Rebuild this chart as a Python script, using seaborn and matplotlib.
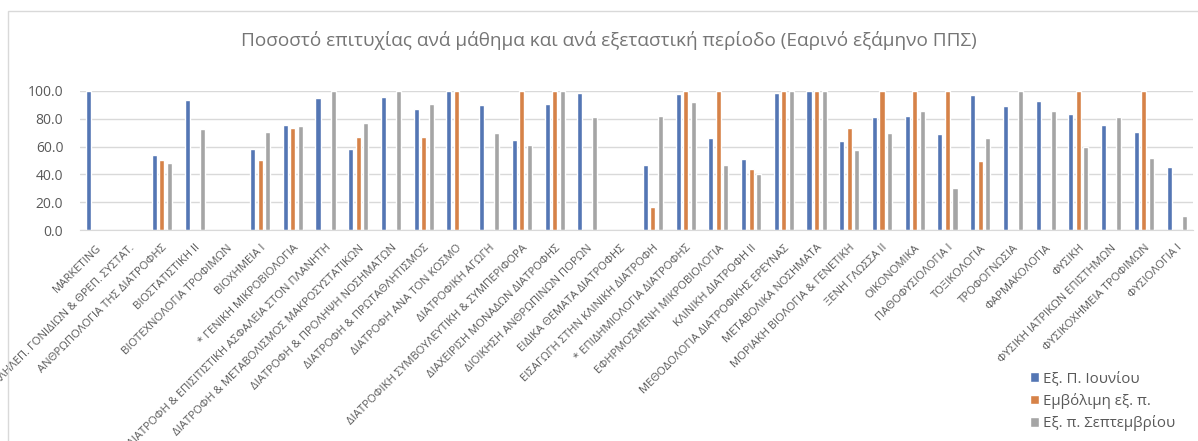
import matplotlib
matplotlib.use("Agg")
import matplotlib.pyplot as plt
import numpy as np
import pandas as pd
import seaborn as sns
from matplotlib.patches import Rectangle

# Courses (x categories), in the order shown on the chart
courses = [
    "MARKETING",
    "ΑΛΛΗΛΕΠ. ΓΟΝΙΔΙΩΝ & ΘΡΕΠ. ΣΥΣΤΑΤ.",
    "ΑΝΘΡΩΠΟΛΟΓΙΑ ΤΗΣ ΔΙΑΤΡΟΦΗΣ",
    "ΒΙΟΣΤΑΤΙΣΤΙΚΗ ΙΙ",
    "ΒΙΟΤΕΧΝΟΛΟΓΙΑ ΤΡΟΦΙΜΩΝ",
    "ΒΙΟΧΗΜΕΙΑ Ι",
    "* ΓΕΝΙΚΗ ΜΙΚΡΟΒΙΟΛΟΓΙΑ",
    "ΔΙΑΤΡΟΦΗ & ΕΠΙΣΙΤΙΣΤΙΚΗ ΑΣΦΑΛΕΙΑ ΣΤΟΝ ΠΛΑΝΗΤΗ",
    "ΔΙΑΤΡΟΦΗ & ΜΕΤΑΒΟΛΙΣΜΟΣ ΜΑΚΡΟΣΥΣΤΑΤΙΚΩΝ",
    "ΔΙΑΤΡΟΦΗ & ΠΡΟΛΗΨΗ ΝΟΣΗΜΑΤΩΝ",
    "ΔΙΑΤΡΟΦΗ & ΠΡΩΤΑΘΛΗΤΙΣΜΟΣ",
    "ΔΙΑΤΡΟΦΗ ΑΝΑ ΤΟΝ ΚΟΣΜΟ",
    "ΔΙΑΤΡΟΦΙΚΗ ΑΓΩΓΗ",
    "ΔΙΑΤΡΟΦΙΚΗ ΣΥΜΒΟΥΛΕΥΤΙΚΗ & ΣΥΜΠΕΡΙΦΟΡΑ",
    "ΔΙΑΧΕΙΡΙΣΗ ΜΟΝΑΔΩΝ ΔΙΑΤΡΟΦΗΣ",
    "ΔΙΟΙΚΗΣΗ ΑΝΘΡΩΠΙΝΩΝ ΠΟΡΩΝ",
    "ΕΙΔΙΚΑ ΘΕΜΑΤΑ ΔΙΑΤΡΟΦΗΣ",
    "ΕΙΣΑΓΩΓΗ ΣΤΗΝ ΚΛΙΝΙΚΗ ΔΙΑΤΡΟΦΗ",
    "* ΕΠΙΔΗΜΙΟΛΟΓΙΑ ΔΙΑΤΡΟΦΗΣ",
    "ΕΦΗΡΜΟΣΜΕΝΗ ΜΙΚΡΟΒΙΟΛΟΓΙΑ",
    "ΚΛΙΝΙΚΗ ΔΙΑΤΡΟΦΗ ΙΙ",
    "ΜΕΘΟΔΟΛΟΓΙΑ ΔΙΑΤΡΟΦΙΚΗΣ ΕΡΕΥΝΑΣ",
    "ΜΕΤΑΒΟΛΙΚΑ ΝΟΣΗΜΑΤΑ",
    "ΜΟΡΙΑΚΗ ΒΙΟΛΟΓΙΑ & ΓΕΝΕΤΙΚΗ",
    "ΞΕΝΗ ΓΛΩΣΣΑ ΙΙ",
    "ΟΙΚΟΝΟΜΙΚΑ",
    "ΠΑΘΟΦΥΣΙΟΛΟΓΙΑ Ι",
    "ΤΟΞΙΚΟΛΟΓΙΑ",
    "ΤΡΟΦΟΓΝΩΣΙΑ",
    "ΦΑΡΜΑΚΟΛΟΓΙΑ",
    "ΦΥΣΙΚΗ",
    "ΦΥΣΙΚΗ ΙΑΤΡΙΚΩΝ ΕΠΙΣΤΗΜΩΝ",
    "ΦΥΣΙΚΟΧΗΜΕΙΑ ΤΡΟΦΙΜΩΝ",
    "ΦΥΣΙΟΛΟΓΙΑ Ι",
]

nan = np.nan
june = [100.0, nan, 53.7, 93.5, nan, 58.5, 75.5, 94.7, 58.3, 95.7,
        87.0, 100.0, 90.2, 64.5, 90.4, 98.6, nan, 47.0, 98.1, 65.9,
        51.1, 98.6, 100.0, 64.3, 81.5, 82.3, 69.1, 97.4, 89.4, 92.8,
        83.2, 75.8, 70.3, 45.3]
interim = [nan, nan, 50.0, nan, nan, 50.0, 73.1, nan, 66.7, nan,
           66.7, 100.0, nan, 100.0, 100.0, nan, nan, 16.3, 100.0, 100.0,
           44.1, 100.0, 100.0, 73.1, 100.0, 100.0, 100.0, 49.6, nan, nan,
           100.0, nan, 100.0, nan]
september = [nan, nan, 48.0, 72.4, nan, 70.7, 74.8, 100.0, 76.7, 100.0,
             90.9, nan, 69.8, 60.9, 100.0, 81.0, nan, 82.3, 92.1, 46.5,
             40.3, 100.0, 100.0, 57.3, 70.0, 85.6, 30.0, 66.4, 100.0, 85.6,
             59.7, 81.5, 51.6, 10.3]

periods = ["Εξ. Π. Ιουνίου", "Εμβόλιμη εξ. π.", "Εξ. π. Σεπτεμβρίου"]
colors = ["#4472C4", "#ED7D31", "#A5A5A5"]
yticks = [0, 20, 40, 60, 80, 100]
title = "Ποσοστό επιτυχίας ανά μάθημα και ανά εξεταστική περίοδο (Εαρινό εξάμηνο ΠΠΣ)"

TEXT = "#595959"
GRID = "#D9D9D9"

df = pd.DataFrame({
    "course": courses * 3,
    "period": [p for p in periods for _ in courses],
    "value": june + interim + september,
}).dropna()

sns.set_style("white")
plt.rcParams["font.family"] = ["Open Sans", "DejaVu Sans"]

fig = plt.figure(figsize=(11.98, 4.41), dpi=100)
ax = fig.add_axes([80 / 1198, 1 - 230 / 441, 1113 / 1198, 139 / 441])

sns.barplot(
    data=df, x="course", y="value", hue="period",
    order=courses, hue_order=periods, palette=colors,
    width=0.69, gap=0.33, errorbar=None, ax=ax, legend=True,
)

ax.set_ylim(0, 100)
ax.set_xlim(-0.5, len(courses) - 0.5)
ax.set_yticks(yticks)
ax.set_yticklabels([f"{v:.1f}" for v in yticks], color=TEXT, fontsize=10)
ax.set_xticks(range(len(courses)))
ax.set_xticklabels(courses, rotation=45, ha="right", rotation_mode="anchor",
                   color=TEXT, fontsize=8.1)
ax.tick_params(axis="both", length=0)
ax.tick_params(axis="y", pad=12)
ax.tick_params(axis="x", pad=9)
ax.set_xlabel("")
ax.set_ylabel("")
ax.yaxis.grid(True, color=GRID, linewidth=1)
ax.set_axisbelow(True)
for side in ["top", "right", "left"]:
    ax.spines[side].set_visible(False)
ax.spines["bottom"].set_color(GRID)

handles, labels = ax.get_legend_handles_labels()
ax.legend(handles, labels, loc="upper left", bbox_to_anchor=(1016 / 1198, 1 - 358 / 441),
          bbox_transform=fig.transFigure, frameon=False, fontsize=10.8,
          handlelength=0.6, handleheight=0.6, handletextpad=0.3,
          labelspacing=0.42, labelcolor=TEXT)

fig.text(609 / 1198, 1 - 40 / 441, title, ha="center", va="center",
         fontsize=13.7, color="#757575")

# chart-area border
fig.patches.append(Rectangle((8 / 1198, -0.1), 1.2, (441 - 11) / 441 + 0.1,
                             transform=fig.transFigure, fill=False,
                             edgecolor=GRID, linewidth=1))

fig.savefig("out.png", dpi=100, facecolor="white")
